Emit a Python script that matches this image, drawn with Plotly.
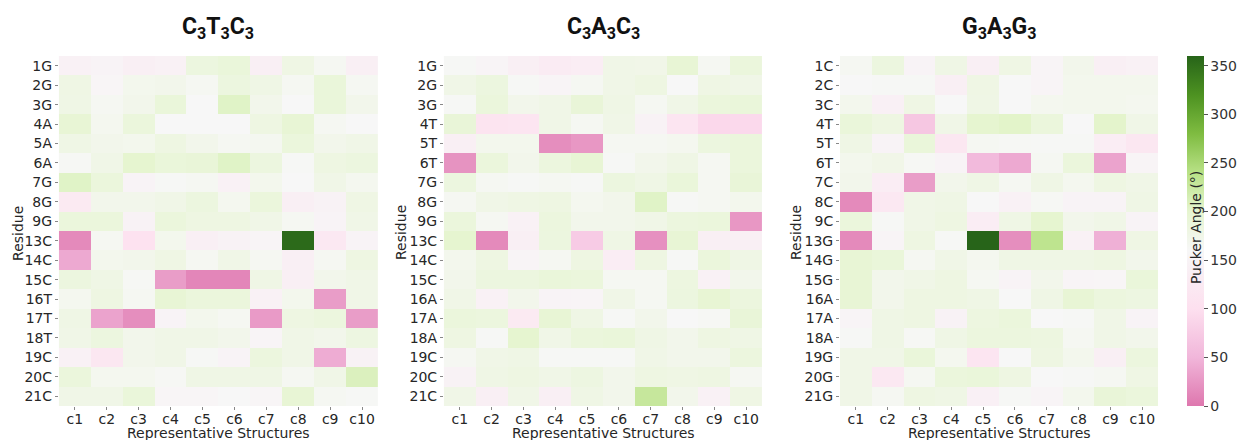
import plotly.graph_objects as go

# Column labels shared by all three panels
structures = ["c1", "c2", "c3", "c4", "c5", "c6", "c7", "c8", "c9", "c10"]

# Residue labels per sequence
res_ctc = ["1G", "2G", "3G", "4A", "5A", "6A", "7G", "8G", "9G", "13C", "14C", "15C",
           "16T", "17T", "18T", "19C", "20C", "21C"]
res_cac = ["1G", "2G", "3G", "4T", "5T", "6T", "7G", "8G", "9G", "13C", "14C", "15C",
           "16A", "17A", "18A", "19C", "20C", "21C"]
res_gag = ["1C", "2C", "3C", "4T", "5T", "6T", "7C", "8C", "9C", "13G", "14G", "15G",
           "16A", "17A", "18A", "19G", "20G", "21G"]

# Pucker angles (degrees), one row per residue, one column per structure
pucker_ctc = [
    [145, 150, 140, 145, 185, 190, 140, 180, 165, 140],
    [180, 155, 170, 172, 165, 185, 178, 165, 190, 165],
    [178, 165, 172, 190, 160, 205, 172, 160, 190, 172],
    [195, 168, 188, 160, 160, 160, 182, 195, 165, 160],
    [178, 172, 170, 182, 172, 165, 167, 188, 172, 176],
    [163, 176, 200, 190, 192, 205, 185, 162, 182, 185],
    [205, 188, 150, 162, 165, 145, 170, 160, 176, 168],
    [125, 172, 172, 176, 185, 168, 188, 140, 148, 180],
    [188, 188, 148, 188, 182, 182, 176, 165, 150, 176],
    [15, 165, 105, 170, 140, 148, 152, 355, 120, 150],
    [40, 170, 172, 180, 165, 176, 165, 140, 165, 182],
    [185, 178, 163, 30, 12, 12, 178, 140, 172, 176],
    [168, 182, 165, 195, 188, 188, 145, 170, 30, 176],
    [178, 35, 18, 150, 170, 165, 28, 182, 186, 30],
    [176, 185, 172, 176, 176, 172, 152, 176, 172, 183],
    [145, 118, 172, 176, 162, 150, 186, 176, 42, 148],
    [188, 168, 168, 163, 178, 178, 178, 165, 176, 210],
    [176, 176, 190, 155, 155, 160, 155, 195, 165, 162],
]

pucker_cac = [
    [162, 152, 140, 128, 135, 176, 175, 195, 165, 188],
    [176, 185, 162, 152, 165, 176, 182, 160, 180, 176],
    [162, 188, 172, 176, 192, 178, 165, 176, 188, 190],
    [192, 110, 112, 176, 165, 176, 148, 112, 90, 92],
    [138, 170, 170, 18, 25, 165, 165, 168, 185, 188],
    [22, 188, 172, 186, 195, 162, 172, 178, 165, 188],
    [185, 165, 162, 165, 162, 185, 178, 190, 165, 192],
    [165, 176, 180, 182, 168, 172, 205, 162, 165, 170],
    [188, 165, 145, 186, 172, 172, 176, 186, 188, 25],
    [200, 15, 140, 185, 75, 178, 20, 195, 140, 140],
    [170, 182, 152, 165, 182, 135, 182, 162, 188, 178],
    [172, 185, 185, 190, 188, 165, 165, 184, 145, 172],
    [176, 145, 172, 150, 152, 176, 165, 185, 196, 186],
    [188, 186, 125, 195, 178, 162, 172, 160, 163, 192],
    [182, 162, 200, 176, 188, 190, 178, 172, 182, 178],
    [165, 176, 178, 162, 162, 162, 176, 172, 172, 186],
    [148, 178, 182, 176, 183, 172, 182, 180, 182, 165],
    [176, 140, 176, 140, 178, 172, 228, 172, 145, 180],
]

pucker_gag = [
    [165, 185, 150, 178, 140, 180, 152, 172, 140, 145],
    [160, 162, 162, 140, 180, 160, 152, 170, 170, 170],
    [170, 142, 180, 160, 178, 160, 168, 170, 170, 168],
    [190, 182, 70, 176, 200, 203, 188, 160, 202, 176],
    [178, 150, 190, 118, 165, 163, 162, 162, 135, 118],
    [170, 175, 163, 150, 55, 40, 165, 188, 35, 152],
    [172, 135, 30, 172, 178, 165, 178, 168, 182, 176],
    [15, 120, 176, 178, 160, 145, 163, 150, 150, 178],
    [188, 162, 176, 182, 135, 178, 200, 172, 176, 150],
    [15, 152, 182, 162, 360, 18, 235, 145, 45, 180],
    [195, 190, 165, 176, 168, 178, 178, 178, 182, 172],
    [195, 172, 176, 182, 165, 150, 172, 152, 155, 190],
    [195, 172, 182, 182, 178, 160, 178, 195, 186, 183],
    [152, 178, 182, 148, 184, 188, 160, 162, 176, 150],
    [162, 178, 163, 178, 186, 186, 184, 165, 176, 172],
    [176, 176, 190, 168, 112, 160, 182, 170, 140, 186],
    [176, 122, 165, 188, 190, 182, 160, 162, 165, 180],
    [176, 165, 182, 178, 142, 162, 152, 170, 192, 188],
]

titles = ["C<sub>3</sub>T<sub>3</sub>C<sub>3</sub>",
          "C<sub>3</sub>A<sub>3</sub>C<sub>3</sub>",
          "G<sub>3</sub>A<sub>3</sub>G<sub>3</sub>"]

# Pink-to-green diverging scale, white near 160 degrees
colorscale = [
    [0.0, "#de77ae"],
    [50 / 360, "#f1b6da"],
    [100 / 360, "#fde0ef"],
    [160 / 360, "#f7f7f7"],
    [200 / 360, "#e6f5d0"],
    [240 / 360, "#b8e186"],
    [280 / 360, "#7fbc41"],
    [320 / 360, "#4d9221"],
    [1.0, "#276419"],
]

W, H = 1238, 440
x_doms = [(59, 379), (445, 764), (842, 1161)]
ylabel_x = [18, 402, 798]
y_top, y_bot = 56, 406
ydom = [1 - y_bot / H, 1 - y_top / H]

label_font = dict(family="DejaVu Sans, Open Sans, sans-serif", size=14, color="#262626")
xtick_font = dict(family="DejaVu Sans, Open Sans, sans-serif", size=14, color="#262626")

fig = go.Figure()
panels = [(res_ctc, pucker_ctc), (res_cac, pucker_cac), (res_gag, pucker_gag)]

for i, (residues, z) in enumerate(panels):
    sfx = "" if i == 0 else str(i + 1)
    fig.add_trace(go.Heatmap(
        z=z, x=structures, y=residues,
        xaxis="x" + sfx, yaxis="y" + sfx,
        zmin=0, zmax=360, colorscale=colorscale,
        showscale=(i == 0),
        colorbar=dict(
            x=1190 / W, xanchor="left", xpad=0, ypad=0, thickness=17,
            y=ydom[0], yanchor="bottom", len=ydom[1] - ydom[0], lenmode="fraction",
            outlinewidth=0, ticks="outside", ticklen=4, tickcolor="#555",
            tickvals=[0, 50, 100, 150, 200, 250, 300, 350],
            tickfont=dict(family="DejaVu Sans, sans-serif", size=14, color="#333"),
        ),
        hovertemplate="%{y} %{x}: %{z}°<extra></extra>",
    ))
    x0, x1 = x_doms[i]
    fig.layout["xaxis" + sfx] = dict(
        domain=[x0 / W, x1 / W], anchor="y" + sfx,
        ticks="outside", ticklen=3, tickcolor="#888", tickfont=xtick_font,
        ticklabelstandoff=-3,
        showgrid=False, zeroline=False, showline=False, automargin=False,
    )
    fig.layout["yaxis" + sfx] = dict(
        domain=ydom, anchor="x" + sfx, autorange="reversed",
        ticks="outside", ticklen=3, tickcolor="#888", tickfont=label_font,
        showgrid=False, zeroline=False, showline=False, automargin=False,
    )
    # panel title
    fig.add_annotation(
        text="<b>" + titles[i] + "</b>", xref="paper", yref="paper",
        x=(x0 + x1) / 2 / W, y=1 - 28 / H, showarrow=False,
        font=dict(family="Liberation Sans Narrow, Roboto, sans-serif", size=23, color="#111"),
        xanchor="center", yanchor="middle",
    )
    # axis titles
    fig.add_annotation(
        text="Representative Structures", xref="paper", yref="paper",
        x=(x0 + x1) / 2 / W, y=0, showarrow=False,
        font=label_font, xanchor="center", yanchor="bottom", yshift=-3,
    )
    fig.add_annotation(
        text="Residue", xref="paper", yref="paper",
        x=ylabel_x[i] / W, y=1 - 233 / H, showarrow=False, textangle=-90,
        font=label_font, xanchor="center", yanchor="middle",
    )

# Colour bar label, drawn over the bar
fig.add_annotation(
    text="Pucker Angle (°)", xref="paper", yref="paper",
    x=1199 / W, y=1 - 228 / H, showarrow=False, textangle=-90,
    font=label_font, xanchor="center", yanchor="middle",
)

fig.update_layout(
    width=W, height=H,
    margin=dict(l=0, r=0, t=0, b=0),
    paper_bgcolor="white", plot_bgcolor="white",
)

fig.write_html("out.html", config={"responsive": False})

# Page without body margin or scrollbars so the figure keeps its full width
with open("out.html", encoding="utf-8") as fh:
    page = fh.read()
page = page.replace("<head>", "<head><style>html,body{margin:0;padding:0;overflow:hidden;}</style>", 1)
with open("out.html", "w", encoding="utf-8") as fh:
    fh.write(page)
